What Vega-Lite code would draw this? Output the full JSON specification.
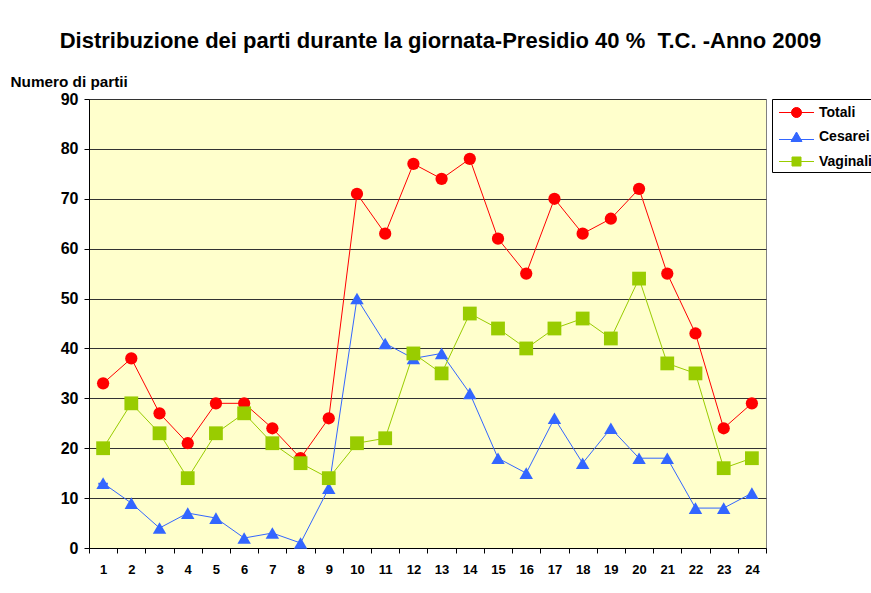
{
  "$schema": "https://vega.github.io/schema/vega-lite/v6.json",
  "width": 677,
  "height": 449,
  "autosize": {"type": "none"},
  "padding": {"left": 89, "top": 99, "right": 105, "bottom": 45},
  "background": "#ffffff",
  "title": {
    "text": "Distribuzione dei parti durante la giornata-Presidio 40 %\u00a0 T.C. -Anno 2009",
    "font": "Liberation Sans",
    "fontWeight": "bold",
    "fontSize": 22,
    "color": "#000000",
    "anchor": "middle",
    "dx": 13,
    "offset": 21
  },
  "config": {
    "view": {"fill": "#FFFFCC", "stroke": "#808080", "strokeWidth": 1},
    "axis": {
      "labelFont": "Liberation Sans",
      "labelFontWeight": "bold",
      "labelColor": "#000000",
      "titleFont": "Liberation Sans",
      "titleFontWeight": "bold",
      "titleColor": "#000000",
      "domainColor": "#000000",
      "tickColor": "#000000"
    },
    "legend": {
      "labelFont": "Liberation Sans",
      "labelFontWeight": "bold",
      "labelFontSize": 14,
      "labelColor": "#000000"
    }
  },
  "data": {
    "values": [
      {"ora": "1", "serie": "Totali", "valore": 33},
      {"ora": "2", "serie": "Totali", "valore": 38},
      {"ora": "3", "serie": "Totali", "valore": 27},
      {"ora": "4", "serie": "Totali", "valore": 21},
      {"ora": "5", "serie": "Totali", "valore": 29},
      {"ora": "6", "serie": "Totali", "valore": 29},
      {"ora": "7", "serie": "Totali", "valore": 24},
      {"ora": "8", "serie": "Totali", "valore": 18},
      {"ora": "9", "serie": "Totali", "valore": 26},
      {"ora": "10", "serie": "Totali", "valore": 71},
      {"ora": "11", "serie": "Totali", "valore": 63},
      {"ora": "12", "serie": "Totali", "valore": 77},
      {"ora": "13", "serie": "Totali", "valore": 74},
      {"ora": "14", "serie": "Totali", "valore": 78},
      {"ora": "15", "serie": "Totali", "valore": 62},
      {"ora": "16", "serie": "Totali", "valore": 55},
      {"ora": "17", "serie": "Totali", "valore": 70},
      {"ora": "18", "serie": "Totali", "valore": 63},
      {"ora": "19", "serie": "Totali", "valore": 66},
      {"ora": "20", "serie": "Totali", "valore": 72},
      {"ora": "21", "serie": "Totali", "valore": 55},
      {"ora": "22", "serie": "Totali", "valore": 43},
      {"ora": "23", "serie": "Totali", "valore": 24},
      {"ora": "24", "serie": "Totali", "valore": 29},
      {"ora": "1", "serie": "Cesarei", "valore": 13},
      {"ora": "2", "serie": "Cesarei", "valore": 9},
      {"ora": "3", "serie": "Cesarei", "valore": 4},
      {"ora": "4", "serie": "Cesarei", "valore": 7},
      {"ora": "5", "serie": "Cesarei", "valore": 6},
      {"ora": "6", "serie": "Cesarei", "valore": 2},
      {"ora": "7", "serie": "Cesarei", "valore": 3},
      {"ora": "8", "serie": "Cesarei", "valore": 1},
      {"ora": "9", "serie": "Cesarei", "valore": 12},
      {"ora": "10", "serie": "Cesarei", "valore": 50},
      {"ora": "11", "serie": "Cesarei", "valore": 41},
      {"ora": "12", "serie": "Cesarei", "valore": 38},
      {"ora": "13", "serie": "Cesarei", "valore": 39},
      {"ora": "14", "serie": "Cesarei", "valore": 31},
      {"ora": "15", "serie": "Cesarei", "valore": 18},
      {"ora": "16", "serie": "Cesarei", "valore": 15},
      {"ora": "17", "serie": "Cesarei", "valore": 26},
      {"ora": "18", "serie": "Cesarei", "valore": 17},
      {"ora": "19", "serie": "Cesarei", "valore": 24},
      {"ora": "20", "serie": "Cesarei", "valore": 18},
      {"ora": "21", "serie": "Cesarei", "valore": 18},
      {"ora": "22", "serie": "Cesarei", "valore": 8},
      {"ora": "23", "serie": "Cesarei", "valore": 8},
      {"ora": "24", "serie": "Cesarei", "valore": 11},
      {"ora": "1", "serie": "Vaginali", "valore": 20},
      {"ora": "2", "serie": "Vaginali", "valore": 29},
      {"ora": "3", "serie": "Vaginali", "valore": 23},
      {"ora": "4", "serie": "Vaginali", "valore": 14},
      {"ora": "5", "serie": "Vaginali", "valore": 23},
      {"ora": "6", "serie": "Vaginali", "valore": 27},
      {"ora": "7", "serie": "Vaginali", "valore": 21},
      {"ora": "8", "serie": "Vaginali", "valore": 17},
      {"ora": "9", "serie": "Vaginali", "valore": 14},
      {"ora": "10", "serie": "Vaginali", "valore": 21},
      {"ora": "11", "serie": "Vaginali", "valore": 22},
      {"ora": "12", "serie": "Vaginali", "valore": 39},
      {"ora": "13", "serie": "Vaginali", "valore": 35},
      {"ora": "14", "serie": "Vaginali", "valore": 47},
      {"ora": "15", "serie": "Vaginali", "valore": 44},
      {"ora": "16", "serie": "Vaginali", "valore": 40},
      {"ora": "17", "serie": "Vaginali", "valore": 44},
      {"ora": "18", "serie": "Vaginali", "valore": 46},
      {"ora": "19", "serie": "Vaginali", "valore": 42},
      {"ora": "20", "serie": "Vaginali", "valore": 54},
      {"ora": "21", "serie": "Vaginali", "valore": 37},
      {"ora": "22", "serie": "Vaginali", "valore": 35},
      {"ora": "23", "serie": "Vaginali", "valore": 16},
      {"ora": "24", "serie": "Vaginali", "valore": 18}
    ]
  },
  "encoding": {
    "x": {
      "field": "ora",
      "type": "ordinal",
      "sort": null,
      "scale": {"type": "band", "paddingInner": 0, "paddingOuter": 0},
      "axis": {
        "title": null,
        "labelAngle": 0,
        "labelFontSize": 13,
        "labelPadding": 10,
        "tickBand": "extent",
        "tickSize": 5,
        "grid": false,
        "domainColor": "#000000"
      }
    },
    "y": {
      "field": "valore",
      "type": "quantitative",
      "scale": {"domain": [0, 90], "nice": false},
      "axis": {
        "title": "Numero di partii",
        "titleAngle": 0,
        "titleAlign": "left",
        "titleBaseline": "alphabetic",
        "titleX": -79,
        "titleY": -13,
        "titleFontSize": 15.3,
        "labelFontSize": 16,
        "labelPadding": 6,
        "values": [0, 10, 20, 30, 40, 50, 60, 70, 80, 90],
        "tickSize": 5,
        "grid": true,
        "gridColor": "#333333",
        "gridWidth": 1,
        "gridOpacity": 1
      }
    }
  },
  "layer": [
    {
      "transform": [{"filter": "datum.ora === '1'"}],
      "mark": {"type": "line", "strokeWidth": 1},
      "encoding": {
        "stroke": {
          "field": "serie",
          "type": "nominal",
          "scale": {
            "domain": ["Totali", "Cesarei", "Vaginali"],
            "range": ["#FF0000", "#3366FF", "#99CC00"]
          },
          "legend": {
            "title": null,
            "orient": "none",
            "legendX": 683,
            "legendY": 0,
            "strokeColor": "#000000",
            "padding": 3,
            "symbolSize": 400,
            "symbolStrokeWidth": 1,
            "symbolOffset": 11,
            "labelOffset": 12,
            "rowPadding": 6.5
          }
        },
        "fill": {
          "field": "serie",
          "type": "nominal",
          "scale": {
            "domain": ["Totali", "Cesarei", "Vaginali"],
            "range": ["#FF0000", "#3366FF", "#99CC00"]
          },
          "legend": {
            "title": null,
            "orient": "none",
            "legendX": 683,
            "legendY": 0,
            "strokeColor": "#000000",
            "padding": 3,
            "symbolSize": 400,
            "symbolStrokeWidth": 1,
            "symbolOffset": 11,
            "labelOffset": 12,
            "rowPadding": 6.5
          }
        },
        "shape": {
          "field": "serie",
          "type": "nominal",
          "scale": {
            "domain": ["Totali", "Cesarei", "Vaginali"],
            "range": [
              "M-1.75,0H1.75M0.5,0C0.5,0.276 0.276,0.5 0,0.5C-0.276,0.5 -0.5,0.276 -0.5,0C-0.5,-0.276 -0.276,-0.5 0,-0.5C0.276,-0.5 0.5,-0.276 0.5,0Z",
              "M-1.75,0.25H1.75M0,-0.5L0.55,0.45L-0.55,0.45Z",
              "M-1.75,0H1.75M-0.45,-0.45H0.45V0.45H-0.45Z"
            ]
          },
          "legend": {
            "title": null,
            "orient": "none",
            "legendX": 683,
            "legendY": 0,
            "strokeColor": "#000000",
            "padding": 3,
            "symbolSize": 400,
            "symbolStrokeWidth": 1,
            "symbolOffset": 11,
            "labelOffset": 12,
            "rowPadding": 6.5
          }
        }
      }
    },
    {
      "mark": {"type": "line", "strokeWidth": 1},
      "encoding": {
        "color": {
          "field": "serie",
          "type": "nominal",
          "scale": {
            "domain": ["Totali", "Cesarei", "Vaginali"],
            "range": ["#FF0000", "#3366FF", "#99CC00"]
          },
          "legend": null
        }
      }
    },
    {
      "transform": [{"filter": "datum.serie === 'Totali'"}],
      "mark": {"type": "point", "filled": true, "opacity": 1, "size": 150, "shape": "circle", "color": "#FF0000"},
      "encoding": {}
    },
    {
      "transform": [{"filter": "datum.serie === 'Cesarei'"}],
      "mark": {"type": "point", "filled": true, "opacity": 1, "size": 180, "shape": "triangle-up", "color": "#3366FF"},
      "encoding": {}
    },
    {
      "transform": [{"filter": "datum.serie === 'Vaginali'"}],
      "mark": {"type": "point", "filled": true, "opacity": 1, "size": 190, "shape": "square", "color": "#99CC00"},
      "encoding": {}
    }
  ]
}
